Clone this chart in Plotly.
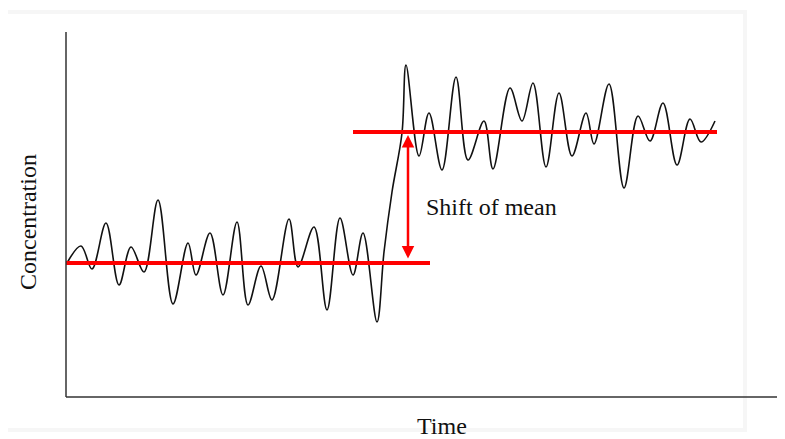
import plotly.graph_objects as go

# Signal: time vs concentration (extrema of the wavy trace)
time = [1, 15, 26, 40, 53, 65, 78, 92, 107, 122, 130, 144, 157, 171, 182, 195, 206, 223, 232, 248,
        261, 274, 287, 297, 311, 318, 326, 336, 340, 353, 363, 376, 390, 402, 418, 427, 444, 456, 467,
        480, 493, 506, 520, 528, 543, 558, 572, 584, 597, 611, 624, 635, 649]
conc = [134, 151, 128, 174, 112, 150, 125, 197, 93, 154, 122, 164, 102, 175, 92, 131, 97, 178, 130, 170,
        87, 179, 122, 164, 75, 145, 205, 264, 332, 241, 284, 227, 320, 237, 276, 228, 309, 276, 314,
        230, 304, 241, 284, 253, 313, 209, 281, 256, 294, 232, 278, 255, 276]

# Mean levels: (start time, end time, level)
mean_before = [0, 364, 134]
mean_after = [287, 651, 265]
shift_time = 342
axis_top = 365

FONT = "Liberation Serif"
W, H = 777, 431  # page adds 8px body margin

fig = go.Figure()

fig.add_trace(go.Scatter(x=time, y=conc, mode="lines",
                         line=dict(color="#111111", width=1.6, shape="spline", smoothing=1.0),
                         hoverinfo="skip", showlegend=False))

for seg in (mean_before, mean_after):
    fig.add_trace(go.Scatter(x=[seg[0], seg[1]], y=[seg[2], seg[2]], mode="lines",
                             line=dict(color="#ff0000", width=4), showlegend=False, hoverinfo="skip"))

# faint background panel border
fig.add_shape(type="rect", x0=-64, x1=679, y0=-33, y1=385,
              fillcolor="rgba(0,0,0,0)", line=dict(width=4, color="#f6f6f6"), layer="below")

# axes lines
fig.add_shape(type="line", x0=0, x1=0, y0=0, y1=axis_top, line=dict(color="#333333", width=1.5))
fig.add_shape(type="line", xref="x", yref="y", x0=0, x1=719, y0=0, y1=0,
              line=dict(color="#333333", width=1.5))

# double arrow
fig.add_annotation(x=shift_time, y=mean_after[2] - 3, ax=shift_time, ay=mean_before[2] + 3,
                   xref="x", yref="y", axref="x", ayref="y", text="", showarrow=True,
                   arrowhead=2, startarrowhead=2, arrowside="end+start", arrowsize=1.0,
                   startarrowsize=1.0, arrowwidth=2.5, arrowcolor="#ff0000")

fig.add_annotation(x=358, y=190, xref="x", yref="y", text="Shift of mean", showarrow=False,
                   xanchor="left", yanchor="middle", font=dict(family=FONT, size=24, color="#111111"))
fig.add_annotation(x=-38, y=175, xref="x", yref="y", text="Concentration", showarrow=False,
                   textangle=-90, xanchor="center", yanchor="middle",
                   font=dict(family=FONT, size=24, color="#111111"))
fig.add_annotation(x=376, y=-29, xref="x", yref="y", text="Time", showarrow=False, borderpad=0,
                   xanchor="center", yanchor="middle", font=dict(family=FONT, size=24, color="#111111"))

fig.update_layout(width=W, height=H, margin=dict(l=0, r=0, t=0, b=0),
                  paper_bgcolor="white", plot_bgcolor="rgba(0,0,0,0)",
                  xaxis=dict(range=[-58, 719], visible=False, fixedrange=True),
                  yaxis=dict(range=[-42, 389], visible=False, fixedrange=True),
                  showlegend=False)

fig.write_html("out.html")
